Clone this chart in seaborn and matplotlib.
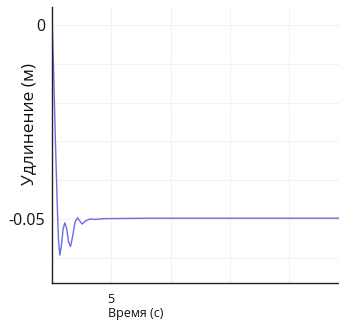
import matplotlib
matplotlib.use("Agg")
import matplotlib.pyplot as plt
import seaborn as sns
import pandas as pd

time_s = [0.0, 0.05, 0.15, 0.3, 0.45, 0.55, 0.67, 0.8, 0.95, 1.09, 1.25, 1.4, 1.57,
          1.75, 1.95, 2.16, 2.35, 2.55, 2.85, 3.19, 3.6, 4.5, 8.0, 14.0, 20.0, 24.2]
elong_m = [0.0, -0.002, -0.012, -0.030, -0.046, -0.055, -0.0593, -0.0570, -0.0525,
           -0.0510, -0.0525, -0.0558, -0.0571, -0.0545, -0.0508, -0.0497, -0.0505,
           -0.0513, -0.0505, -0.0500, -0.0501, -0.0499, -0.0498, -0.0498, -0.0498, -0.0498]
x_grid = [5, 10, 15, 20]
x_labels = ["5", "", "", ""]
y_grid = [0.0, -0.01, -0.02, -0.03, -0.04, -0.05, -0.06]
y_labels = ["0", "", "", "", "", "-0.05", ""]

sns.set_style("white")
plt.rcParams["font.family"] = ["Open Sans", "DejaVu Sans"]

df = pd.DataFrame({"t": time_s, "y": elong_m})
fig = plt.figure(figsize=(3.39, 3.22), dpi=100)
ax = fig.add_axes([0.153, 0.121, 0.847, 0.857])
sns.lineplot(data=df, x="t", y="y", ax=ax, color="#6c6ce6", linewidth=1.0)

ax.set_xlim(0, 24.2)
ax.set_ylim(-0.0665, 0.0046)
ax.set_xticks(x_grid)
ax.set_xticklabels(x_labels, fontsize=9, color="#111111")
ax.set_yticks(y_grid)
ax.set_yticklabels(y_labels, fontsize=11.5, color="#111111")
ax.tick_params(axis="x", length=0, pad=7)
ax.tick_params(axis="y", length=0, pad=5)
ax.grid(True, color="#f2f2f2", linewidth=0.8)
for s in ["top", "right"]:
    ax.spines[s].set_visible(False)
for s in ["left", "bottom"]:
    ax.spines[s].set_color("#222222")
    ax.spines[s].set_linewidth(1.0)

ax.set_xlabel("Время (с)", fontsize=9, ha="left", color="#111111")
ax.xaxis.set_label_coords(0.196, -0.088)
ax.set_ylabel("Удлинение (м)", fontsize=12.5, color="#111111")
ax.yaxis.set_label_coords(-0.05, 0.576)

fig.savefig("out.png", dpi=100)
